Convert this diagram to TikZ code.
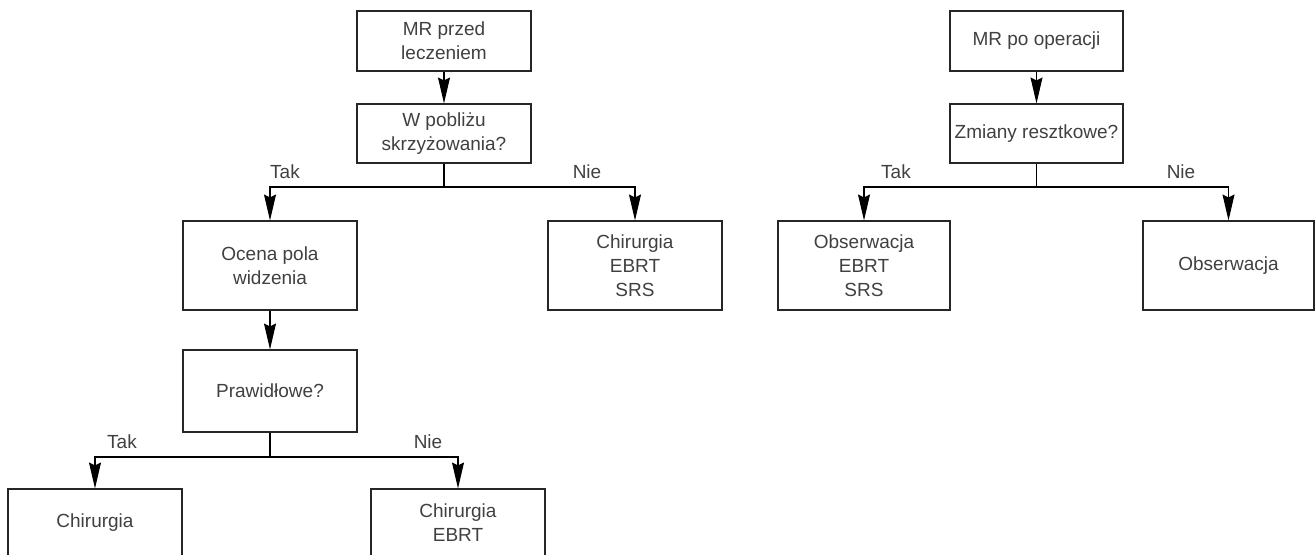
\documentclass[tikz,border=0pt]{standalone}
\usepackage{fontspec}
\setmainfont{Liberation Sans}
\usetikzlibrary{arrows.meta}
\begin{document}
\begin{tikzpicture}[x=1pt,y=-1pt,
        box/.style={draw=black!85,line width=1.1pt,text=black!75,align=center,
            inner sep=0pt,font=\fontsize{19}{24}\selectfont},
        arr/.style={-{Stealth[length=26pt,width=12pt,inset=3pt]},line width=1.1pt},
        lbl/.style={text=black!75,font=\fontsize{19}{22}\selectfont}]
        \useasboundingbox (0,0) rectangle (1316,554);
        % left tree
        \node[box,minimum width=174,minimum height=60] (przed) at (444,41) {MR przed\\leczeniem};
        \node[box,minimum width=174,minimum height=59] (poblizu) at (444,133.5) {W pobliżu\\skrzyżowania?};
        \node[box,minimum width=174,minimum height=89] (ocena) at (270,265.5) {Ocena pola\\widzenia};
        \node[box,minimum width=174,minimum height=89] (chirA) at (635,265.5) {Chirurgia\\EBRT\\SRS};
        \node[box,minimum width=174,minimum height=82] (prawid) at (270,391) {Prawidłowe?};
        \node[box,minimum width=174,minimum height=68] (chirB) at (95,523) {Chirurgia};
        \node[box,minimum width=174,minimum height=68] (chirC) at (458,523) {Chirurgia\\EBRT};
        \coordinate (split1) at (444,187);
        \coordinate (split2) at (270,457);
        \draw[arr] (przed) -- (poblizu);
        \draw[arr] (poblizu) -- (split1) -| (ocena);
        \draw[arr] (split1) -| (chirA);
        \draw[arr] (ocena) -- (prawid);
        \draw[arr] (prawid) -- (split2) -| (chirB);
        \draw[arr] (split2) -| (chirC);
        \node[lbl] (tak1) at (285,172) {Tak};
        \node[lbl] (nie1) at (587,172) {Nie};
        \node[lbl] (tak2) at (122,442) {Tak};
        \node[lbl] (nie2) at (428,442) {Nie};
        % right tree
        \node[box,minimum width=173,minimum height=60] (po) at (1036.5,41) {MR po operacji};
        \node[box,minimum width=173,minimum height=59] (zmiany) at (1036.5,133.5) {Zmiany resztkowe?};
        \node[box,minimum width=172,minimum height=89] (obsA) at (864,265.5) {Obserwacja\\EBRT\\SRS};
        \node[box,minimum width=171,minimum height=89] (obsB) at (1228.5,265.5) {Obserwacja};
        \coordinate (split3) at (1036.5,187);
        \draw[arr] (po) -- (zmiany);
        \draw[arr] (zmiany) -- (split3) -| (obsA);
        \draw[arr] (split3) -| (obsB);
        \node[lbl] (tak3) at (896,172) {Tak};
        \node[lbl] (nie3) at (1181,172) {Nie};
    \end{tikzpicture}
\end{document}
